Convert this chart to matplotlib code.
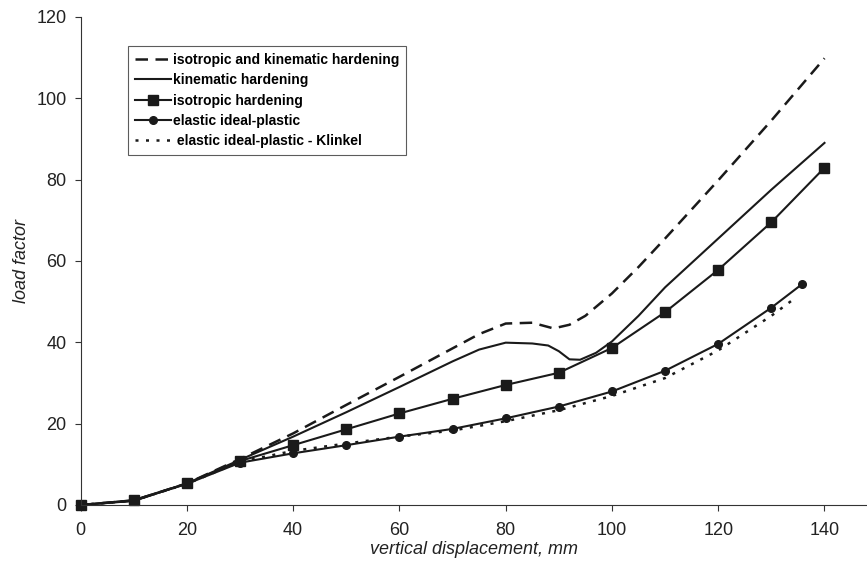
import matplotlib.pyplot as plt

plt.rcParams['font.family'] = ['Liberation Sans', 'DejaVu Sans']

# Data ---------------------------
# isotropic and kinematic hardening (dashed)
x_iso_kin = [0, 10, 20, 30, 40, 50, 60, 70, 75, 80, 85, 89, 92, 95, 100, 105, 110, 120, 130, 140]
y_iso_kin = [0, 1.1, 5.3, 11.3, 17.6, 24.6, 31.5, 38.5, 42, 44.6, 44.8, 43.4, 44.3, 46.5, 52, 58.5, 65.5, 79.8, 94.5, 109.8]

# kinematic hardening (solid)
x_kin = [0, 10, 20, 30, 40, 50, 60, 70, 75, 80, 85, 88, 90, 92, 94, 97, 100, 105, 110, 120, 130, 140]
y_kin = [0, 1.0, 5.3, 11.1, 16.8, 22.8, 29, 35.3, 38.2, 39.9, 39.7, 39.2, 37.8, 35.8, 35.7, 37.4, 40.2, 46.5, 53.5, 65.5, 77.5, 89]

# isotropic hardening (squares)
x_iso = [0, 10, 20, 30, 40, 50, 60, 70, 80, 90, 100, 110, 120, 130, 140]
y_iso = [0, 1.2, 5.3, 10.8, 14.7, 18.6, 22.5, 26.1, 29.5, 32.5, 38.6, 47.4, 57.8, 69.5, 82.9]

# elastic ideal-plastic (circles)
x_eip = [0, 10, 20, 30, 40, 50, 60, 70, 80, 90, 100, 110, 120, 130, 135.8]
y_eip = [0, 1.1, 5.2, 10.4, 12.7, 14.7, 16.8, 18.7, 21.3, 24.2, 27.9, 33.0, 39.6, 48.5, 54.3]

# elastic ideal-plastic - Klinkel (dotted)
x_klinkel = [0, 10, 20, 30, 40, 50, 60, 70, 80, 90, 100, 110, 120, 130, 134]
y_klinkel = [0, 1.1, 5.2, 10.6, 13.3, 15.1, 16.8, 18.3, 20.6, 23.3, 26.8, 31.2, 38.0, 46.5, 50.4]

labels = ['isotropic and kinematic hardening', 'kinematic hardening',
          'isotropic hardening', 'elastic ideal-plastic',
          ' elastic ideal-plastic - Klinkel']

# Plot -----
fig = plt.figure(figsize=(8.67, 5.69), dpi=100)
ax = fig.add_axes([0.093, 0.1125, 0.907, 0.858])

ax.plot(x_iso_kin, y_iso_kin, color='#1a1a1a', lw=1.8, dashes=(5, 3), label=labels[0])
ax.plot(x_kin, y_kin, color='#1a1a1a', lw=1.5, label=labels[1])
ax.plot(x_iso, y_iso, color='#1a1a1a', lw=1.5, marker='s', ms=6.5, label=labels[2], clip_on=False)
ax.plot(x_eip, y_eip, color='#1a1a1a', lw=1.5, marker='o', ms=5.5, label=labels[3], clip_on=False)
ax.plot(x_klinkel, y_klinkel, color='#1a1a1a', lw=1.8, dashes=(1.2, 3), label=labels[4])

ax.set_xlim(0, 148)
ax.set_ylim(0, 120)
ax.set_xticks(range(0, 141, 20))
ax.set_yticks(range(0, 121, 20))
ax.spines['top'].set_visible(False)
ax.spines['right'].set_visible(False)
for s in ['left', 'bottom']:
    ax.spines[s].set_color('#333333')
ax.tick_params(direction='out', length=4, labelsize=13, colors='#333333', labelcolor='#222222')
ax.tick_params(axis='y', pad=6)
ax.tick_params(axis='x', pad=8)
ax.set_xlabel('vertical displacement, mm', fontsize=13, style='italic', labelpad=2, color='#222222')
ax.set_ylabel('load factor', fontsize=13, style='italic', labelpad=5, color='#222222')

leg = ax.legend(loc='upper left', bbox_to_anchor=(0.06, 0.94),
                prop={'weight': 'bold', 'size': 10}, frameon=True, fancybox=False,
                handlelength=2.6, handletextpad=0.15, labelspacing=0.45,
                borderpad=0.5, borderaxespad=0)
leg.get_frame().set_edgecolor('#333333')
leg.get_frame().set_linewidth(0.8)

plt.savefig('out.png', dpi=100)
